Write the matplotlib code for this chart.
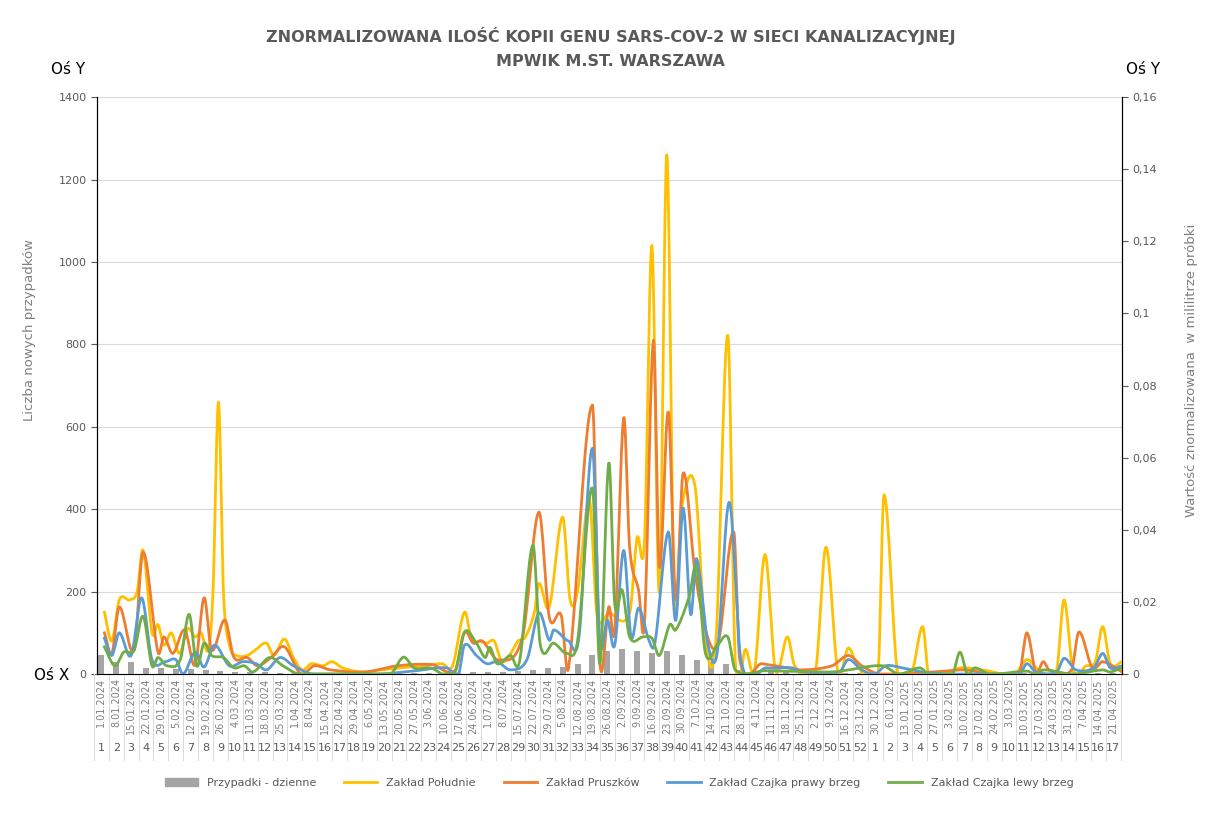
import numpy as np
import matplotlib
matplotlib.use("Agg")
import matplotlib.pyplot as plt
import matplotlib.transforms as mtransforms
from matplotlib.lines import Line2D
from matplotlib.patches import Patch

# week labels (Mondays)
dates = ['1.01.2024', '8.01.2024', '15.01.2024', '22.01.2024', '29.01.2024', '5.02.2024', '12.02.2024',
         '19.02.2024', '26.02.2024', '4.03.2024', '11.03.2024', '18.03.2024', '25.03.2024', '1.04.2024',
         '8.04.2024', '15.04.2024', '22.04.2024', '29.04.2024', '6.05.2024', '13.05.2024', '20.05.2024',
         '27.05.2024', '3.06.2024', '10.06.2024', '17.06.2024', '24.06.2024', '1.07.2024', '8.07.2024',
         '15.07.2024', '22.07.2024', '29.07.2024', '5.08.2024', '12.08.2024', '19.08.2024', '26.08.2024',
         '2.09.2024', '9.09.2024', '16.09.2024', '23.09.2024', '30.09.2024', '7.10.2024', '14.10.2024',
         '21.10.2024', '28.10.2024', '4.11.2024', '11.11.2024', '18.11.2024', '25.11.2024', '2.12.2024',
         '9.12.2024', '16.12.2024', '23.12.2024', '30.12.2024', '6.01.2025', '13.01.2025', '20.01.2025',
         '27.01.2025', '3.02.2025', '10.02.2025', '17.02.2025', '24.02.2025', '3.03.2025', '10.03.2025',
         '17.03.2025', '24.03.2025', '31.03.2025', '7.04.2025', '14.04.2025', '21.04.2025']
week_no = list(range(1, 53)) + list(range(1, 18))

# weekly new cases (bars)
cases = [45, 30, 30, 15, 15, 12, 12, 10, 8, 6, 5, 4, 3, 3, 3, 2, 2, 2, 2, 2, 2, 2, 2, 2, 3, 4, 4, 5, 8,
         10, 15, 18, 25, 45, 55, 60, 55, 50, 55, 45, 35, 30, 25, 10, 8, 6, 5, 4, 4, 4, 3, 3, 3, 3, 3, 2,
         2, 2, 2, 2, 2, 2, 2, 2, 2, 2, 2, 2, 2]

# sewage samples: (week position, value in left-axis units; /8750 gives copies per ml)
poludnie = [(0.2, 150), (0.7, 80), (1.2, 180), (1.9, 180), (2.4, 200), (2.8, 300), (3.4, 100), (3.8, 120),
            (4.2, 70), (4.7, 100), (5.25, 50), (5.8, 110), (6.3, 90), (6.7, 100), (7.2, 60), (7.5, 200),
            (7.87, 660), (8.2, 200), (8.6, 70), (9.1, 45), (9.8, 45), (10.4, 60), (11.1, 75), (11.6, 45),
            (12.3, 85), (12.9, 40), (13.5, 10), (14.1, 25), (14.9, 20), (15.5, 30), (16.2, 15), (17.5, 5),
            (18.8, 10), (20.2, 15), (21.5, 20), (22.9, 25), (23.6, 20), (24.4, 150), (24.9, 80), (25.4, 80),
            (25.9, 75), (26.4, 80), (26.9, 30), (27.5, 50), (28.0, 80), (28.5, 90), (29.1, 150), (29.4, 220),
            (30.1, 163), (31.0, 381), (31.5, 180), (32.0, 200), (32.8, 422), (33.3, 148), (34.1, 148),
            (35.5, 148), (36.0, 330), (36.5, 325), (37.0, 1040), (37.5, 197), (38.0, 1260), (38.5, 180),
            (39.0, 405), (39.9, 455), (40.6, 83), (41.3, 83), (42.1, 822), (42.6, 34), (43.3, 60), (43.9, 10),
            (44.6, 290), (45.3, 10), (46.1, 90), (46.6, 20), (48.0, 10), (48.7, 308), (49.5, 5), (50.2, 63),
            (50.9, 15), (52.2, 5), (52.6, 435), (53.5, 5), (54.5, 10), (55.2, 115), (55.6, 0), (57.7, 15),
            (59.2, 10), (61.4, 0), (62.2, 35), (63.0, 10), (64.2, 10), (64.7, 180), (65.3, 10), (66.2, 20),
            (66.8, 30), (67.3, 115), (67.8, 25), (68.6, 30)]
pruszkow = [(0.2, 100), (0.7, 50), (1.2, 163), (2.2, 58), (2.8, 296), (3.8, 53), (4.2, 90), (4.8, 50),
            (5.6, 107), (6.3, 22), (6.9, 185), (7.4, 58), (8.3, 131), (8.9, 41), (9.8, 40), (10.5, 20),
            (11.4, 40), (12.3, 66), (13.4, 0), (14.3, 20), (15.4, 10), (17.7, 5), (19.9, 20), (22.2, 23),
            (23.8, 10), (24.4, 100), (25.0, 75), (25.6, 80), (26.7, 34), (28.3, 90), (29.4, 393), (30.1, 138),
            (30.9, 143), (31.4, 15), (33.0, 653), (33.5, 27), (34.1, 163), (34.5, 107), (35.1, 621),
            (35.5, 308), (36.1, 204), (36.5, 124), (37.1, 810), (37.5, 260), (38.1, 636), (38.6, 180),
            (39.1, 488), (39.9, 245), (40.8, 83), (41.5, 83), (42.5, 345), (42.9, 35), (44.4, 25), (45.8, 17),
            (47.1, 10), (49.1, 20), (50.2, 45), (51.1, 20), (52.3, 0), (55.9, 5), (57.9, 10), (61.7, 5),
            (62.2, 100), (62.8, 5), (63.3, 30), (63.7, 10), (65.2, 10), (65.7, 102), (66.6, 15), (67.3, 30),
            (68.6, 5)]
czajka_prawy = [(0.2, 87), (0.7, 45), (1.2, 100), (2.0, 45), (2.7, 185), (3.4, 35), (4.3, 30), (5.0, 35),
                (5.5, 0), (6.3, 53), (6.9, 17), (7.6, 70), (8.6, 20), (9.5, 30), (10.4, 25), (11.1, 10),
                (12.0, 40), (12.9, 20), (14.2, 0), (18.7, 0), (20.9, 7), (23.2, 15), (24.0, 0), (24.4, 70),
                (25.2, 45), (25.9, 25), (26.6, 30), (27.5, 10), (28.6, 35), (29.4, 148), (30.1, 82),
                (30.4, 107), (31.4, 80), (32.1, 90), (33.0, 548), (33.5, 82), (34.0, 131), (34.5, 70),
                (35.1, 300), (35.6, 90), (36.1, 160), (36.8, 82), (37.2, 75), (38.1, 345), (38.6, 130),
                (39.1, 403), (39.6, 145), (40.0, 280), (40.8, 65), (41.4, 55), (42.2, 417), (43.0, 30),
                (44.7, 15), (46.4, 15), (47.1, 5), (49.6, 5), (50.2, 35), (51.1, 10), (52.0, 0), (52.7, 20),
                (53.8, 15), (55.2, 5), (57.0, 0), (61.7, 0), (62.2, 25), (62.8, 5), (64.2, 5), (64.7, 38),
                (65.5, 10), (66.7, 15), (67.3, 50), (67.8, 15), (68.6, 20)]
czajka_lewy = [(0.2, 66), (0.9, 20), (1.5, 53), (2.2, 58), (2.8, 140), (3.4, 20), (3.8, 40), (4.4, 20),
               (5.3, 35), (5.9, 145), (6.4, 20), (6.9, 75), (7.4, 45), (8.2, 40), (8.9, 15), (9.6, 20),
               (10.2, 5), (11.3, 40), (12.2, 20), (13.3, 0), (19.4, 0), (20.3, 41), (21.0, 15), (22.1, 15),
               (23.7, 0), (24.4, 102), (25.2, 75), (25.8, 40), (26.1, 65), (26.6, 25), (27.5, 45), (28.1, 30),
               (29.0, 313), (29.5, 70), (30.4, 75), (31.3, 50), (32.0, 80), (33.0, 452), (33.5, 25),
               (34.1, 512), (34.5, 170), (35.0, 204), (35.5, 90), (36.4, 90), (37.0, 87), (37.5, 45),
               (38.2, 120), (38.6, 107), (39.5, 187), (40.0, 260), (40.6, 50), (41.4, 70), (42.1, 90),
               (42.6, 10), (44.6, 8), (46.1, 7), (49.1, 5), (50.2, 10), (52.5, 20), (53.6, 0), (55.0, 15),
               (55.6, 0), (57.2, 0), (57.7, 53), (58.2, 0), (58.7, 15), (59.7, 0), (62.2, 7), (62.8, 0),
               (63.3, 10), (65.3, 0), (67.3, 10), (67.8, 5), (68.6, 15)]

SCALE = 8750.0  # 1400 cases <-> 0.16 on the right axis


def smooth(pts, n=16):
    # cubic Hermite through the points (Catmull-Rom style tangents), like Excel's smoothed line
    p = np.array(pts, dtype=float)
    xs, ys = p[:, 0], p[:, 1]
    m = np.zeros_like(ys)
    m[1:-1] = (ys[2:] - ys[:-2]) / (xs[2:] - xs[:-2])
    m[0] = (ys[1] - ys[0]) / (xs[1] - xs[0])
    m[-1] = (ys[-1] - ys[-2]) / (xs[-1] - xs[-2])
    ox, oy = [], []
    for i in range(len(xs) - 1):
        h = xs[i + 1] - xs[i]
        t = np.linspace(0, 1, n, endpoint=False)
        h00 = 2 * t ** 3 - 3 * t ** 2 + 1
        h10 = t ** 3 - 2 * t ** 2 + t
        h01 = -2 * t ** 3 + 3 * t ** 2
        h11 = t ** 3 - t ** 2
        ox.append(xs[i] + t * h)
        oy.append(h00 * ys[i] + h10 * h * m[i] + h01 * ys[i + 1] + h11 * h * m[i + 1])
    ox.append([xs[-1]])
    oy.append([ys[-1]])
    return np.concatenate(ox), np.clip(np.concatenate(oy), 0, None)


fig = plt.figure(figsize=(12.21, 8.16), dpi=100)
ax = fig.add_axes([0.0794, 0.174, 0.8396, 0.707])
ax2 = ax.twinx()

gray_txt = '#595959'
x = np.arange(len(dates))
ax.bar(x, cases, width=0.4, color='#A5A5A5', zorder=2)
ax.set_ylim(0, 1400)
ax.set_xlim(-0.3, 68.6)
ax.set_yticks(range(0, 1401, 200))
ax.tick_params(axis='y', labelsize=8, colors=gray_txt, length=4)
ax.grid(axis='y', color='#D9D9D9', lw=0.8)
ax.set_axisbelow(True)
ax.spines['top'].set_visible(False)
ax2.spines['top'].set_visible(False)
ax.spines['bottom'].set_color('#D9D9D9')

series = [(poludnie, '#FFC000', 'Zakład Południe'),
          (pruszkow, '#ED7D31', 'Zakład Pruszków'),
          (czajka_prawy, '#5B9BD5', 'Zakład Czajka prawy brzeg'),
          (czajka_lewy, '#70AD47', 'Zakład Czajka lewy brzeg')]
for pts, col, name in series:
    sx, sy = smooth(pts)
    ax2.plot(sx, sy / SCALE, color=col, lw=2.0, zorder=3)

ax2.set_ylim(0, 0.16)
ax2.set_yticks(np.arange(0, 0.161, 0.02))
ax2.set_yticklabels(['0'] + [('%.2f' % v).replace('.', ',').rstrip('0') for v in np.arange(0.02, 0.161, 0.02)])
ax2.tick_params(axis='y', labelsize=8, colors=gray_txt, length=4)
ax2.spines['right'].set_color('black')

# two-level category axis
ax.set_xticks(x)
ax.set_xticklabels(dates, rotation=90, fontsize=7, color='#7F7F7F')
ax.tick_params(axis='x', length=0, pad=3)
trans = mtransforms.blended_transform_factory(ax.transData, fig.transFigure)
for i, w in enumerate(week_no):
    ax.text(i, 1 - 748 / 816, str(w), transform=trans, ha='center', va='center', fontsize=8, color=gray_txt)
for i in range(len(dates) + 1):
    xi = i - 0.5
    ax.add_line(Line2D([xi, xi], [1 - 674 / 816, 1 - 760 / 816], transform=trans, color='#D9D9D9',
                       lw=0.7, clip_on=False))

fig.text(0.5, 1 - 36 / 816, 'ZNORMALIZOWANA ILOŚĆ KOPII GENU SARS-COV-2 W SIECI KANALIZACYJNEJ',
         ha='center', va='center', fontsize=11.5, fontweight='bold', color=gray_txt)
fig.text(0.5, 1 - 61 / 816, 'MPWIK M.ST. WARSZAWA', ha='center', va='center', fontsize=11.5,
         fontweight='bold', color=gray_txt)
fig.text(68 / 1221, 1 - 70 / 816, 'Oś Y', ha='center', va='center', fontsize=11)
fig.text(1143 / 1221, 1 - 70 / 816, 'Oś Y', ha='center', va='center', fontsize=11)
fig.text(52 / 1221, 1 - 675 / 816, 'Oś X', ha='center', va='center', fontsize=11)
fig.text(30 / 1221, 1 - 330 / 816, 'Liczba nowych przypadków', rotation=90, ha='center', va='center',
         fontsize=9.5, color='#7F7F7F')
fig.text(1192 / 1221, 1 - 370 / 816, 'Wartość znormalizowana  w mililitrze próbki', rotation=90,
         ha='center', va='center', fontsize=9.5, color='#7F7F7F')

handles = [Patch(color='#A5A5A5', label='Przypadki - dzienne')] + \
          [Line2D([0], [0], color=c, lw=2.0, label=n) for _, c, n in series]
fig.legend(handles=handles, loc='center', bbox_to_anchor=(0.507, 1 - 783 / 816), ncol=5, frameon=False,
           fontsize=8, labelcolor=gray_txt, handlelength=3.0, columnspacing=2.5)

fig.savefig('out.png', dpi=100)
